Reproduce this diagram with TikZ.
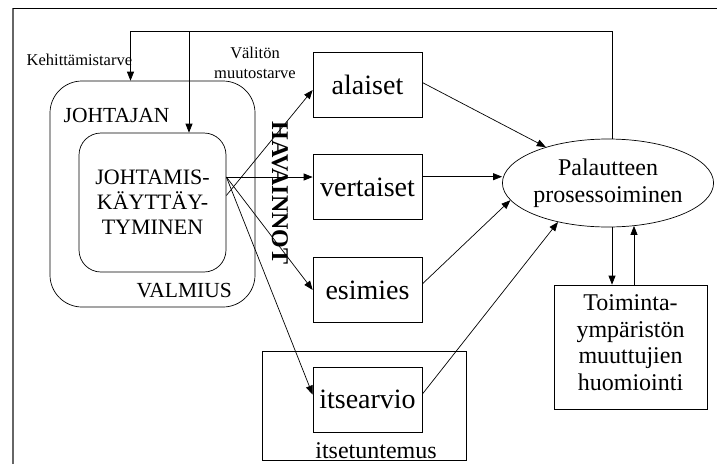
\documentclass[tikz,border=0pt]{standalone}
\usepackage{fontspec}
\setmainfont{Liberation Serif}
\usetikzlibrary{shapes, positioning, arrows.meta, calc}

\begin{document}
\begin{tikzpicture}[
    x=1pt, y=-1pt,
    >={Triangle[length=9pt, width=7pt]},
    line width=0.7pt,
    peer/.style={draw, rectangle, minimum width=109pt, minimum height=65pt, inner sep=0pt, font=\fontsize{28}{30}\selectfont},
    rbox/.style={draw, rounded corners=#1, inner sep=0pt},
    note/.style={font=\fontsize{16.5}{20}\selectfont}
]
    \useasboundingbox (0,0) rectangle (717,464);

    % Frame
    \draw[black!60, line width=1.2pt] (13,464) -- (13,8);
    \draw (13,8) -- (717,8);

    % Leader
    \node[rbox=32pt, minimum width=205pt, minimum height=226pt] (ready) at (152.5,194) {};
    \node[rbox=22pt, minimum width=147pt, minimum height=139pt, align=center, font=\fontsize{22}{25}\selectfont] (lead) at (152.5,202.5) {JOHTAMIS-\\KÄYTTÄY-\\TYMINEN};
    \node[anchor=base west, font=\fontsize{21.5}{24}\selectfont] (johtajan) at (60,122) {JOHTAJAN};
    \node[anchor=base west, font=\fontsize{21.5}{24}\selectfont] (valmius) at (133,297) {VALMIUS};

    % Sources
    \node[peer] (alai) at (367.5,84.5) {alaiset};
    \node[peer, below=37pt of alai] (vert) {vertaiset};
    \node[peer, below=37pt of vert] (esim) {esimies};
    \node[peer, below=44pt of esim] (self) {itsearvio};
    \node[draw, minimum width=204pt, minimum height=109pt, inner sep=0pt] (selfknow) at (364,405.5) {};
    \node[anchor=base, font=\fontsize{24}{26}\selectfont] (selflabel) at (376,458) {itsetuntemus};
    \node[rotate=-90, font=\bfseries\fontsize{24}{26}\selectfont] (obs) at (280,193) {HAVAINNOT};

    % Processing
    \node[draw, ellipse, minimum width=183pt, minimum height=88pt, inner sep=0pt, align=center, font=\fontsize{24}{27}\selectfont] (proc) at (608,183) {Palautteen\\prosessoiminen};
    \node[draw, minimum width=153pt, minimum height=124pt, inner sep=0pt, align=center, text depth=9pt, font=\fontsize{24}{26.5}\selectfont] (env) at (630.5,347) {Toiminta-\\ympäristön\\muuttujien\\huomiointi};

    % Labels
    \node[note, anchor=base west] (devneed) at (23,65) {Kehittämistarve};
    \node[note, align=center] (urgent) at (255,63) {Välitön\\muutostarve};

    % Feedback loop
    \coordinate (loop) at (612,31);
    \coordinate (devturn) at (130.5,31);
    \coordinate (urgturn) at (189,31);
    \draw[->] (proc.north -| loop) -- (loop) -- (devturn) -- (devturn |- ready.north);
    \draw[->] (urgturn) -- (urgturn |- lead.north);

    % Observations
    \coordinate (fan) at ([yshift=25.5pt]lead.east);
    \coordinate (fanlow) at ([yshift=7pt]lead.east);
    \draw[->] (fan) -- (fan -| vert.west);
    \draw[->] (fanlow) -- ([yshift=-5.5pt]alai.west);
    \draw[->] (fan) -- (esim.west);
    \draw[->] (fan) -- ([yshift=5pt]self.west);

    % Into processing
    \coordinate (vertout) at ([yshift=10.5pt]vert.east);
    \draw[->] ([yshift=2pt]alai.east) -- (proc.150);
    \draw[->] (vertout) -- (vertout -| proc.west);
    \draw[->] ([yshift=6pt]esim.east) -- (proc.190);
    \draw[->] ([yshift=5.5pt]self.east) -- (proc.218);

    % Environment
    \coordinate (envin) at ([xshift=-18.5pt]env.north);
    \coordinate (envout) at ([xshift=3.5pt]env.north);
    \draw[->] (envin |- proc.south) -- (envin);
    \draw[->] (envout) -- (envout |- proc.-58);

\end{tikzpicture}
\end{document}
